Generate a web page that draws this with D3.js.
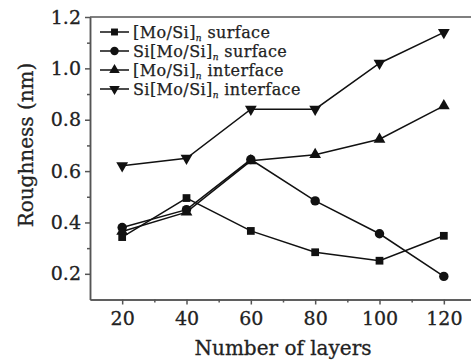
<!DOCTYPE html>
<html>
<head>
<meta charset="utf-8">
<script src="https://cdn.jsdelivr.net/npm/d3@7"></script>
<style>
  body { margin: 0; background: #fff; }
  text { font-family: "DejaVu Serif", serif; fill: #222; }
</style>
</head>
<body>
<div class="chart"></div>
<script>
const layers = [20, 40, 60, 80, 100, 120]
const mosi_surface = [0.343, 0.495, 0.367, 0.284, 0.251, 0.348]
const simosi_surface = [0.38, 0.45, 0.645, 0.484, 0.356, 0.19]
const mosi_interface = [0.365, 0.44, 0.64, 0.664, 0.724, 0.854]
const simosi_interface = [0.621, 0.65, 0.841, 0.841, 1.02, 1.14]
const x_ticks = [20, 40, 60, 80, 100, 120]
const y_ticks = [0.2, 0.4, 0.6, 0.8, 1.0, 1.2]

const series = [
  {pre: '[Mo/Si]', post: ' surface', vals: mosi_surface, sym: d3.symbolSquare, size: 60, rot: 0},
  {pre: 'Si[Mo/Si]', post: ' surface', vals: simosi_surface, sym: d3.symbolCircle, size: 70, rot: 0},
  {pre: '[Mo/Si]', post: ' interface', vals: mosi_interface, sym: d3.symbolTriangle, size: 60, rot: 0},
  {pre: 'Si[Mo/Si]', post: ' interface', vals: simosi_interface, sym: d3.symbolTriangle, size: 60, rot: 180}
]

const width = 471
const height = 362

const svg = d3.select(".chart").append("svg")
  .attr("width", width)
  .attr("height", height)

const x = d3.scaleLinear().domain([10, 130]).range([90, 476])
const y = d3.scaleLinear().domain([0.1, 1.2]).range([299.5, 17])

const axis_col = "#555"

// y axis
const gy = svg.append("g").attr("transform", "translate(90,0)")
gy.call(d3.axisLeft(y).tickValues(y_ticks).tickFormat(d3.format(".1f")).tickSize(5).tickSizeOuter(0))
gy.append("g").call(d3.axisLeft(y).tickValues([0.3, 0.5, 0.7, 0.9, 1.1]).tickFormat("").tickSize(3).tickSizeOuter(0))
gy.selectAll("path, line").attr("stroke", axis_col).attr("stroke-width", 1.5)
gy.selectAll("text").attr("font-size", "19px").attr("x", -9).attr("fill", "#222")
  .attr("stroke", "#222").attr("stroke-width", 0.3)
  .style("font-family", "DejaVu Serif")

// x axis
const gx = svg.append("g").attr("transform", `translate(0,${y(0.1)})`)
gx.call(d3.axisBottom(x).tickValues(x_ticks).tickSize(5).tickSizeOuter(0))
gx.append("g").call(d3.axisBottom(x).tickValues([30, 50, 70, 90, 110]).tickFormat("").tickSize(3).tickSizeOuter(0))
gx.selectAll("path, line").attr("stroke", axis_col).attr("stroke-width", 1.5)
gx.selectAll("text").attr("font-size", "19px").attr("y", 12).attr("fill", "#222")
  .attr("stroke", "#222").attr("stroke-width", 0.3)
  .style("font-family", "DejaVu Serif")

// top frame
svg.append("line")
  .attr("x1", x(10)).attr("x2", x(130))
  .attr("y1", y(1.2)).attr("y2", y(1.2))
  .attr("stroke", axis_col).attr("stroke-width", 1.5)

const line = d3.line()
  .x((d, i) => x(layers[i]))
  .y(d => y(d))

const groups = svg.selectAll(".series")
  .data(series)
  .enter()
  .append("g")

groups.append("path")
  .attr("d", d => line(d.vals))
  .attr("fill", "none")
  .attr("stroke", "#111")
  .attr("stroke-width", 1.5)

groups.each(function(s) {
  d3.select(this).selectAll(".pt")
    .data(s.vals)
    .enter()
    .append("path")
    .attr("d", d3.symbol().type(s.sym).size(s.size))
    .attr("transform", (d, i) => `translate(${x(layers[i])},${y(d)}) rotate(${s.rot})`)
    .attr("fill", "#111")
})

// legend
const leg = svg.selectAll(".leg")
  .data(series)
  .enter()
  .append("g")
  .attr("transform", (d, i) => `translate(100,${32 + i * 19})`)

leg.append("line")
  .attr("x1", 0).attr("x2", 29)
  .attr("stroke", "#111").attr("stroke-width", 1.5)

leg.append("path")
  .attr("d", d => d3.symbol().type(d.sym).size(d.size * 0.8)())
  .attr("transform", d => `translate(14.5,0) rotate(${d.rot})`)
  .attr("fill", "#111")

const lt = leg.append("text")
  .attr("x", 33)
  .attr("y", 6)
  .attr("font-size", "16px")
  .attr("letter-spacing", "0.4px")
  .attr("stroke", "#222").attr("stroke-width", 0.25)
lt.append("tspan").text(d => d.pre)
lt.append("tspan").text("n").attr("font-size", "9px").attr("font-style", "italic").attr("dy", 3)
lt.append("tspan").text(d => d.post).attr("dy", -3)

// axis titles
svg.append("text")
  .attr("x", 283)
  .attr("y", 355)
  .attr("text-anchor", "middle")
  .attr("font-size", "20px")
  .attr("stroke", "#222").attr("stroke-width", 0.3)
  .text("Number of layers")

svg.append("text")
  .attr("transform", "translate(33,145) rotate(-90)")
  .attr("text-anchor", "middle")
  .attr("font-size", "20px")
  .attr("stroke", "#222").attr("stroke-width", 0.3)
  .text("Roughness (nm)")
</script>
</body>
</html>
